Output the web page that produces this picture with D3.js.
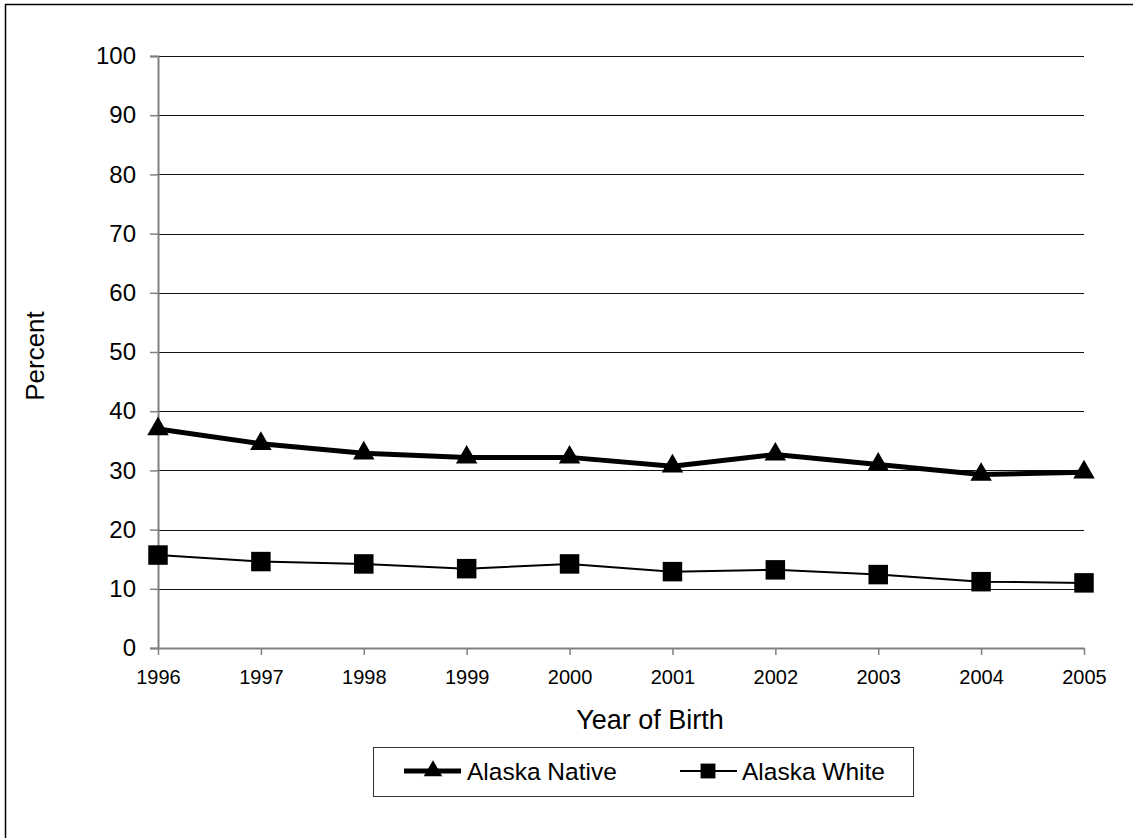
<!DOCTYPE html>
<html><head><meta charset="utf-8">
<script src="https://cdn.jsdelivr.net/npm/d3@7"></script>
<style>body{margin:0;background:#fff}svg{display:block;font-family:"Liberation Sans",Arial,sans-serif}</style>
</head><body>
<svg id="c" width="1133" height="838"></svg>
<script>
const years = [1996,1997,1998,1999,2000,2001,2002,2003,2004,2005];
const nativeVals = [37.0,34.5,32.9,32.2,32.2,30.7,32.7,31.0,29.3,29.7];
const whiteVals = [15.7,14.6,14.2,13.4,14.2,12.9,13.2,12.4,11.2,11.0];
const yTicks = [0,10,20,30,40,50,60,70,80,90,100];
const seriesNames = ["Alaska Native","Alaska White"];

const svg = d3.select("#c");
const L = 158, R = 1084, T = 56, B = 648;
const x = d3.scaleLinear().domain([1996,2005]).range([L,R]);
const y = d3.scaleLinear().domain([0,100]).range([B,T]);

// outer frame (only left/top visible)
svg.append("rect").attr("x",5.5).attr("y",4.5).attr("width",1200).attr("height",900)
  .attr("fill","none").attr("stroke","#000").attr("stroke-width",1.5);

// gridlines
svg.append("g").selectAll("line").data(yTicks.filter(d=>d>0)).join("line")
  .attr("x1",L).attr("x2",R).attr("y1",d=>Math.round(y(d))+0.5).attr("y2",d=>Math.round(y(d))+0.5)
  .attr("stroke","#111").attr("stroke-width",1);

// y axis
const ya = svg.append("g").attr("transform",`translate(${L},0)`)
  .call(d3.axisLeft(y).tickValues(yTicks).tickSize(8).tickPadding(14));
ya.select(".domain").attr("stroke","#808080").attr("stroke-width",2);
ya.selectAll(".tick line").attr("stroke","#808080").attr("stroke-width",1.5);
ya.selectAll("text").attr("font-size",24).attr("fill","#000")
  .attr("font-family","Liberation Sans, Arial, sans-serif");

// x axis
const xa = svg.append("g").attr("transform",`translate(0,${B})`)
  .call(d3.axisBottom(x).tickValues(years).tickFormat(d3.format("d")).tickSize(7).tickPadding(15).tickSizeOuter(0));
xa.select(".domain").attr("stroke","#808080").attr("stroke-width",2);
xa.selectAll(".tick line").attr("stroke","#808080").attr("stroke-width",1.5);
xa.selectAll("text").attr("font-size",20).attr("fill","#000")
  .attr("font-family","Liberation Sans, Arial, sans-serif");

// axis titles
svg.append("text").attr("x",650).attr("y",729).attr("text-anchor","middle")
  .attr("font-size",27).text("Year of Birth");
svg.append("text").attr("transform","translate(44,356) rotate(-90)").attr("text-anchor","middle")
  .attr("font-size",26).text("Percent");

const line = d3.line().x((d,i)=>x(years[i])).y(d=>y(d));
const tri = d3.symbol().type(d3.symbolTriangle).size(200);
const sq = d3.symbol().type(d3.symbolSquare).size(380);

// white series
svg.append("path").attr("d",line(whiteVals)).attr("fill","none").attr("stroke","#000").attr("stroke-width",2);
svg.append("g").selectAll("path").data(whiteVals).join("path")
  .attr("d",sq).attr("transform",(d,i)=>`translate(${x(years[i])},${y(d)})`).attr("fill","#000");

// native series
svg.append("path").attr("d",line(nativeVals)).attr("fill","none").attr("stroke","#000").attr("stroke-width",5);
svg.append("g").selectAll("path").data(nativeVals).join("path")
  .attr("d",tri).attr("transform",(d,i)=>`translate(${x(years[i])},${y(d)})`).attr("fill","#000");

// legend
const lg = svg.append("g");
lg.append("rect").attr("x",373.5).attr("y",747.5).attr("width",540).attr("height",49)
  .attr("fill","#fff").attr("stroke","#333").attr("stroke-width",1);
lg.append("line").attr("x1",404).attr("x2",461).attr("y1",771).attr("y2",771).attr("stroke","#000").attr("stroke-width",5);
lg.append("path").attr("d",d3.symbol().type(d3.symbolTriangle).size(150)).attr("transform","translate(433,771)");
lg.append("text").attr("x",467).attr("y",780).attr("font-size",24.5).text(seriesNames[0]);
lg.append("line").attr("x1",680).attr("x2",737).attr("y1",771).attr("y2",771).attr("stroke","#000").attr("stroke-width",2);
lg.append("path").attr("d",d3.symbol().type(d3.symbolSquare).size(220)).attr("transform","translate(708,771)");
lg.append("text").attr("x",742).attr("y",780).attr("font-size",24.5).text(seriesNames[1]);
</script>
</body></html>
